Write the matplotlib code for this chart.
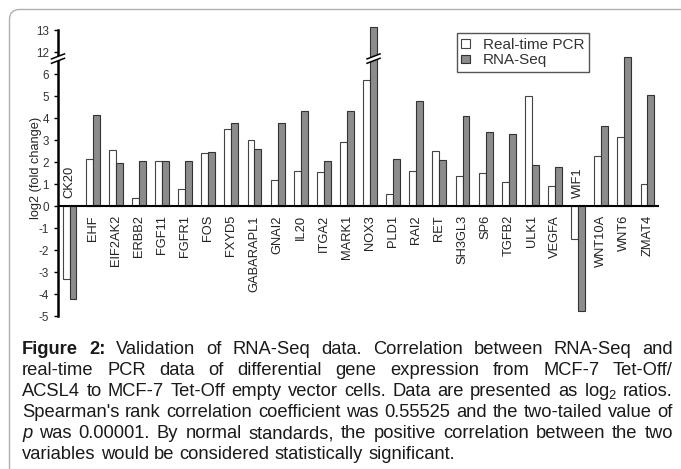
import numpy as np
import matplotlib
matplotlib.use('Agg')
import matplotlib.pyplot as plt
from matplotlib.transforms import IdentityTransform
from matplotlib.patches import FancyBboxPatch, Polygon
from matplotlib.lines import Line2D
from matplotlib.ticker import NullLocator

plt.rcParams['font.family'] = ['Liberation Sans', 'DejaVu Sans']
plt.rcParams['mathtext.fontset'] = 'custom'
plt.rcParams['mathtext.rm'] = 'Liberation Sans'
plt.rcParams['mathtext.it'] = 'Liberation Sans:italic'
plt.rcParams['mathtext.bf'] = 'Liberation Sans:bold'

# data (log2 fold change)
genes = ['CK20', 'EHF', 'EIF2AK2', 'ERBB2', 'FGF11', 'FGFR1', 'FOS', 'FXYD5',
         'GABARAPL1', 'GNAI2', 'IL20', 'ITGA2', 'MARK1', 'NOX3', 'PLD1', 'RAI2',
         'RET', 'SH3GL3', 'SP6', 'TGFB2', 'ULK1', 'VEGFA', 'WIF1', 'WNT10A',
         'WNT6', 'ZMAT4']
pcr = [-3.33, 2.14, 2.54, 0.36, 2.03, 0.76, 2.39, 3.48, 3.01, 1.17, 1.59, 1.55,
       2.90, 5.71, 0.55, 1.58, 2.48, 1.36, 1.51, 1.08, 5.00, 0.92, -1.50, 2.26,
       3.15, 0.99]
seq = [-4.23, 4.12, 1.97, 2.06, 2.06, 2.06, 2.44, 3.77, 2.57, 3.79, 4.30, 2.06,
       4.33, 13.15, 2.12, 4.79, 2.08, 4.10, 3.38, 3.26, 1.85, 1.77, -4.76, 3.64,
       10.6, 5.05]
yticks = [-5, -4, -3, -2, -1, 0, 1, 2, 3, 4, 5, 6, 12, 13]
BREAK = 10.2

caption_lines = [
    "Figure 2: Validation of RNA-Seq data. Correlation between RNA-Seq and",
    "real-time PCR data of differential gene expression from MCF-7 Tet-Off/",
    "ACSL4 to MCF-7 Tet-Off empty vector cells. Data are presented as log$_\\mathrm{2}$ ratios.",
    "Spearman's rank correlation coefficient was 0.55525 and the two-tailed value of",
    "p was 0.00001. By normal standards, the positive correlation between the two",
    "variables would be considered statistically significant.",
]


# broken axis: 6..12 squeezed into one unit
def fwd(v):
    v = np.asarray(v, float)
    return np.where(v <= 6, v, np.where(v <= 12, 6 + (v - 6) / 6, v - 5))


def inv(p):
    p = np.asarray(p, float)
    return np.where(p <= 6, p, np.where(p <= 7, 6 + (p - 6) * 6, p + 5))


W, H = 681, 469
fig = plt.figure(figsize=(W / 100, H / 100), dpi=100)
ax = fig.add_axes([58 / W, (H - 316) / H, 601 / W, 292.6 / H])
ax.set_yscale('function', functions=(fwd, inv))

x = np.arange(len(genes))
ax.bar(x - 0.15, pcr, 0.3, color='white', edgecolor='#444444', lw=0.8,
       label='Real-time PCR')
ax.bar(x + 0.15, seq, 0.3, color='#8c8c8c', edgecolor='#333333', lw=0.8,
       label='RNA-Seq')
ax.set_xlim(-0.5, len(genes) - 0.5)
ax.set_ylim(-5, 13.3)
ax.set_yticks(yticks)
ax.set_yticklabels([str(t) for t in yticks])
ax.yaxis.set_minor_locator(NullLocator())
ax.set_xticks([])
for s in ['top', 'right', 'bottom']:
    ax.spines[s].set_visible(False)
ax.spines['left'].set_linewidth(1.8)
ax.spines['left'].set_bounds(-5, 13)
ax.tick_params(axis='y', length=3, width=1, pad=3.5, labelsize=8.4, labelcolor='#333333')
ax.axhline(0, color='black', lw=1.5)

for i, g in enumerate(genes):
    neg = pcr[i] < 0
    ax.annotate(g, (i, 0), xytext=(0, 8 if neg else -9), textcoords='offset pixels',
                rotation=90, ha='center', va='bottom' if neg else 'top',
                fontsize=9.3, color='#222222')

leg = ax.legend(loc='upper left', bbox_to_anchor=(456.7 / W, 1 - 33.3 / H),
                bbox_transform=fig.transFigure, borderaxespad=0, fancybox=False,
                edgecolor='#555555', framealpha=1, fontsize=11, handlelength=0.6,
                handleheight=0.5, handletextpad=0.8, labelspacing=0.1, borderpad=0.3)
leg.get_frame().set_linewidth(1.0)
for t in leg.get_texts():
    t.set_color('#333333')

fig.text(36, H - 168, 'log2 (fold change)', rotation=90, ha='center', va='center',
         fontsize=9.2, color='#222222', transform=IdentityTransform())


def brk(px, py):
    dx, dy, gap = 6.5, 2.5, 2.2
    poly = Polygon([[px - dx, py - dy - gap], [px + dx, py + dy - gap],
                    [px + dx, py + dy + gap], [px - dx, py - dy + gap]],
                   closed=True, fc='white', ec='none', transform=IdentityTransform(),
                   zorder=5)
    fig.add_artist(poly)
    for s in (-gap, gap):
        fig.add_artist(Line2D([px - dx, px + dx], [py - dy + s, py + dy + s],
                              color='black', lw=1.1, transform=IdentityTransform(),
                              zorder=6))


bx, by = ax.transData.transform((-0.5, BREAK))
brk(bx, by)
nx = genes.index('NOX3')
bx, by = ax.transData.transform((nx + 0.15, BREAK))
brk(bx, by)

# frame round the figure
fig.add_artist(FancyBboxPatch((9.5, -30), 700, H - 9.5 + 30,
                              boxstyle='round,pad=0,rounding_size=10', fc='none',
                              ec='#b0b0b0', lw=1, transform=IdentityTransform(),
                              zorder=0))

# justified caption
renderer = fig.canvas.get_renderer()
L, R = 22, 673
baselines = [354, 375, 396, 417, 438, 458.5]


def measure(s, size, **kw):
    t = fig.text(0, 0, s, fontsize=size, transform=IdentityTransform(), **kw)
    w = t.get_window_extent(renderer).width
    t.remove()
    return w


def natural(line, size):
    ws = [measure(w, size) for w in line.split(' ')]
    sp = measure('a a', size) - measure('aa', size)
    return sum(ws) + sp * (len(ws) - 1)


# the caption's unstretched lines (3 and 4) set the type size
base = 11.4
cap_size = base * 650 / max(natural(caption_lines[2], base), natural(caption_lines[3], base))
space = measure('a a', cap_size) - measure('aa', cap_size)

for k, line in enumerate(caption_lines):
    words = line.split(' ')
    arts = []
    for j, w in enumerate(words):
        weight = 'bold' if (k == 0 and j < 2) else 'normal'
        style = 'italic' if (k == 4 and j == 0) else 'normal'
        t = fig.text(0, 0, w, fontsize=cap_size, weight=weight, style=style,
                     color='#1a1a1a', ha='left', va='baseline',
                     transform=IdentityTransform())
        arts.append(t)
    widths = [t.get_window_extent(renderer).width for t in arts]
    if k == len(caption_lines) - 1:
        gap = space
    else:
        gap = (R - L - sum(widths)) / (len(words) - 1)
    xpos = L
    for t, wd in zip(arts, widths):
        t.set_position((xpos, H - baselines[k]))
        xpos += wd + gap

fig.savefig('out.png', dpi=100)
